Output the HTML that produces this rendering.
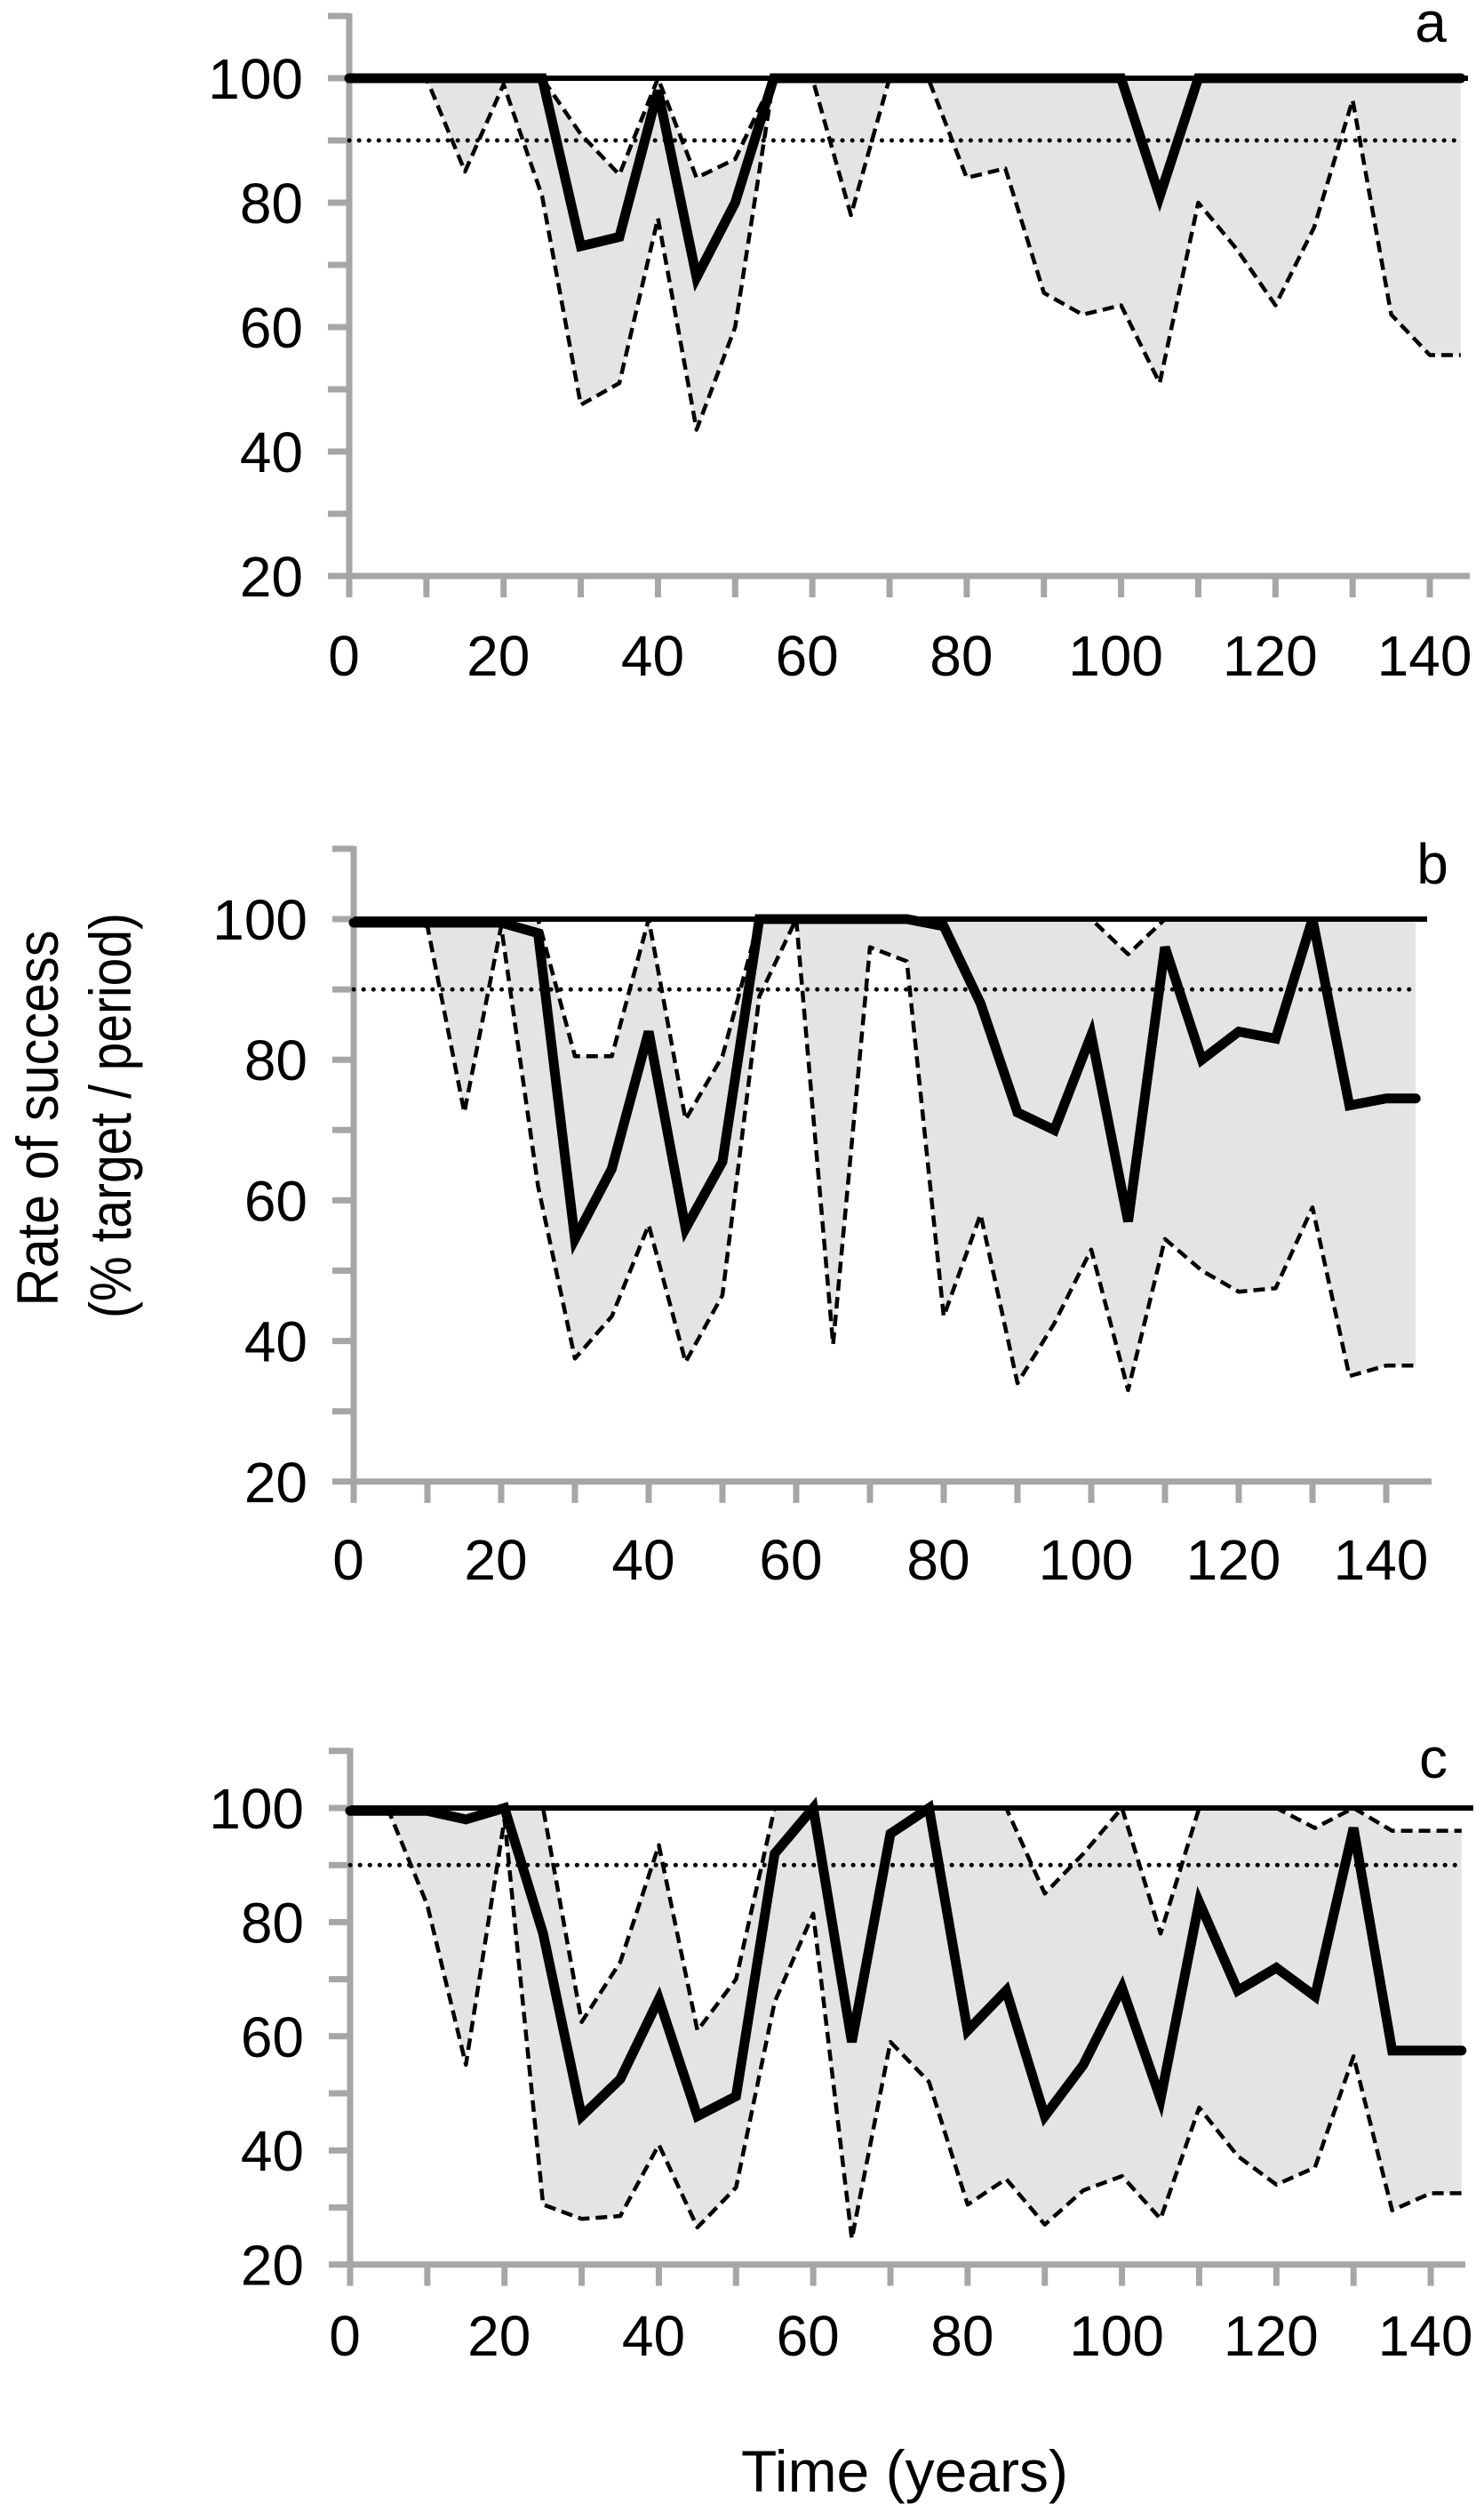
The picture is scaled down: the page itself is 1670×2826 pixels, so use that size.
<!DOCTYPE html>
<html><head><meta charset="utf-8"><style>
html,body{margin:0;padding:0;background:#fff;}
svg{display:block;}
text{font-family:"Liberation Sans",Arial,sans-serif;fill:#000;}
</style></head><body>
<svg id="chart" width="1670" height="2826" viewBox="0 0 1670 2826" xmlns="http://www.w3.org/2000/svg">
<text x="0" y="0" font-size="66" text-anchor="middle" textLength="423" lengthAdjust="spacingAndGlyphs" transform="translate(65,1258) rotate(-90)">Rate of success</text>
<text x="0" y="0" font-size="66" text-anchor="middle" textLength="456" lengthAdjust="spacingAndGlyphs" transform="translate(147,1255) rotate(-90)">(% target / period)</text>
<text x="1018" y="2803" font-size="66" text-anchor="middle">Time (years)</text>
</svg>
<script>
const years = [0,5,10,15,20,25,30,35,40,45,50,55,60,65,70,75,80,85,90,95,100,105,110,115,120,125,130,135,140,144];
const yTicks = [20,30,40,50,60,70,80,90,100,110];
const yTickLabels = ['20','40','60','80','100'];
const xTickLabels = ['0','20','40','60','80','100','120','140'];
const targetLevel = 90;

const meanA  = [100,100,100,100,100,100,73,74.5,98,68,80,100,100,100,100,100,100,100,100,100,100,81,100,100,100,100,100,100,100,100];
const upperA = [100,100,100,100,100,100,91,84.5,100,84,87,100,100,100,100,100,100,100,100,100,100,100,100,100,100,100,100,100,100,100];
const lowerA = [100,100,100,85,99,81,47.5,51,77.5,43.5,60,100,100,78,100,100,84,85.5,65.5,62,63.5,51,80,72.5,63.5,76,96.5,62,55.5,55.5];

const meanB  = [99.5,99.5,99.5,99.5,99.5,98,54.5,64.5,84,56,65.5,100,100,100,100,100,99,88,72.5,70,83.5,57,96,80,84,83,100,73.5,74.5,74.5];
const upperB = [100,100,100,100,100,100,80.5,80.5,100,71.5,80.5,100,100,100,100,100,100,100,100,100,100,95,100,100,100,100,100,100,100,100];
const lowerB = [99.5,99.5,99,72.5,99,62,37.5,43.5,56.5,37,46.5,89,100,39.5,96,94,43.5,58,34,42.5,53,33,54.5,50,47,47.5,59,35,36.5,36.5];

const meanC  = [99.5,99.5,99.5,98,100,78,46,52.5,66.5,46,49.5,92,100,59,95.5,100,61,68,46,55,68.5,49,83.5,68,72,67,96.5,57.5,57.5,57.5];
const upperC = [100,100,100,100,100,100,62.5,73,93.5,61,70,100,100,100,100,100,100,100,85,92,100,78,100,100,100,96.5,100,96,96,96];
const lowerC = [100,99.5,83,55,98,30.5,28,28.5,41,26.5,33.5,66,81.5,24.5,59,52,30.5,35,27,33,35.5,28,47.5,39,34,37,56.5,29.5,32.5,32.5];

const layouts = [
  {id:'a', x0:393, ppy:8.686, y100:88, per10:70, axisEnd:1654, lineEnd:1652, labelY:760, tag:[1610,47], mean:meanA, upper:upperA, lower:lowerA},
  {id:'b', x0:398, ppy:8.3, y100:1034, per10:79.1, axisEnd:1611, lineEnd:1606, labelY:1777, tag:[1612,994], mean:meanB, upper:upperB, lower:lowerB},
  {id:'c', x0:394, ppy:8.686, y100:2034, per10:64.2, axisEnd:1649, lineEnd:1658, labelY:2650, tag:[1613,2000], mean:meanC, upper:upperC, lower:lowerC}
];
const NS='http://www.w3.org/2000/svg';
const svg=document.getElementById('chart');
function mk(tag,attrs,parent){const e=document.createElementNS(NS,tag);for(const k in attrs)e.setAttribute(k,attrs[k]);(parent||svg).appendChild(e);return e;}

layouts.forEach(L=>{
  const X=t=>L.x0+t*L.ppy;
  const Y=v=>L.y100-(v-100)/10*L.per10;
  const g=mk('g',{});
  
  
  // band
  let d='M'+years.map((t,i)=>X(t)+','+Y(L.upper[i])).join(' L');
  for(let i=years.length-1;i>=0;i--) d+=' L'+X(years[i])+','+Y(L.lower[i]);
  const band=mk('path',{d:d+'Z',fill:'#e4e4e4',stroke:'none'},g);
  
  
  // axes
  const ax=mk('g',{stroke:'#a6a6a6','stroke-width':7,fill:'none'},g);
  
  
  mk('line',{x1:L.x0,y1:Y(110)-3,x2:L.x0,y2:Y(20)+3},ax);
  mk('line',{x1:L.x0,y1:Y(20),x2:L.axisEnd,y2:Y(20)},ax);
  yTicks.forEach(v=>mk('line',{x1:L.x0-24,y1:Y(v),x2:L.x0,y2:Y(v)},ax));
  for(let t=0;t<=140;t+=10) mk('line',{x1:X(t),y1:Y(20),x2:X(t),y2:Y(20)+24},ax);
  // ref lines
  const ref=mk('line',{x1:L.x0,y1:Y(100),x2:L.lineEnd,y2:Y(100),stroke:'#000','stroke-width':6},g);
  
  
  const tl=mk('line',{x1:L.x0,y1:Y(targetLevel),x2:X(years[years.length-1]),y2:Y(targetLevel),stroke:'#000','stroke-width':5,'stroke-dasharray':'0.1 11','stroke-linecap':'round'},g);
  
  
  // series
  const pts=arr=>years.map((t,i)=>X(t)+','+Y(arr[i])).join(' ');
  const up=mk('polyline',{points:pts(L.upper),fill:'none',stroke:'#000','stroke-width':4.5,'stroke-dasharray':'13 7','stroke-linejoin':'round'},g);
  
  
  const lo=mk('polyline',{points:pts(L.lower),fill:'none',stroke:'#000','stroke-width':4.5,'stroke-dasharray':'13 7','stroke-linejoin':'round'},g);
  
  
  const mn=mk('polyline',{points:pts(L.mean),fill:'none',stroke:'#000','stroke-width':11,'stroke-linejoin':'miter','stroke-linecap':'round'},g);
  
  
  // labels
  yTickLabels.forEach(s=>{const e=mk('text',{x:L.x0-52,y:Y(+s)+23,'font-size':64,'text-anchor':'end'},g);e.textContent=s;
    
    });
  xTickLabels.forEach(s=>{const e=mk('text',{x:X(+s)-6,y:L.labelY,'font-size':64,'text-anchor':'middle'},g);e.textContent=s;
    
    });
  const tg=mk('text',{x:L.tag[0],y:L.tag[1],'font-size':64,'text-anchor':'middle'},g);tg.textContent=L.id;
  
  
});
</script>
</body></html>
